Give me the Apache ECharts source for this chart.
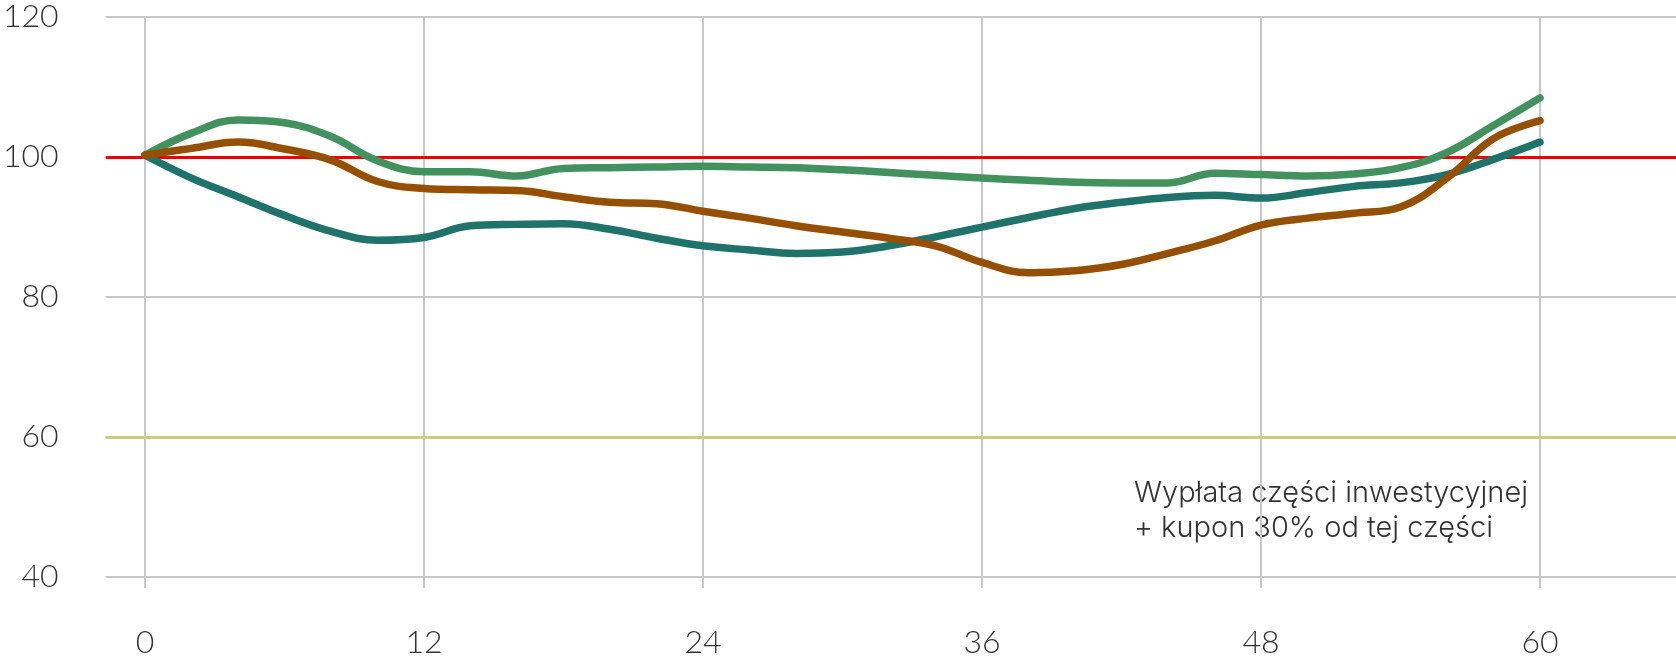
<!DOCTYPE html>
<html>
<head>
<meta charset="utf-8">
<script src="https://cdn.jsdelivr.net/npm/echarts@6/dist/echarts.min.js"></script>
<style>
html,body{margin:0;padding:0;background:#fff;}
#chart{width:1676px;height:659px;}
</style>
</head>
<body>
<div id="chart"></div>
<script>
const months = [0,2,4,6,8,10,12,14,16,18,20,22,24,26,28,30,32,34,36,38,40,42,44,46,48,50,52,54,56,58,60];
const xTicks = [0,12,24,36,48,60];
const yTicks = [40,60,80,100,120];
const greenValues = [100,103.2,105.1,104.7,102.7,99.2,97.6,97.6,97.0,98.1,98.2,98.3,98.4,98.3,98.2,97.9,97.5,97.1,96.7,96.4,96.1,96.0,96.0,97.4,97.2,97.0,97.3,98.2,100.4,104.3,108.3];
const tealValues = [100,96.7,94.0,91.3,89.0,87.7,88.1,89.8,90.0,90.1,89.3,88.0,86.9,86.3,85.8,86.0,86.9,88.2,89.6,91.0,92.3,93.2,93.9,94.2,93.8,94.6,95.5,96.0,97.2,99.4,101.9];
const brownValues = [100,101.0,101.9,100.9,99.3,96.2,95.2,95.0,94.9,94.0,93.2,93.0,91.9,90.9,89.8,88.9,88.0,86.9,84.5,83.0,83.3,84.2,85.8,87.6,89.9,90.9,91.6,92.5,96.7,102.4,105.0];
const referenceLevels = [100, 60];
const annotation = ['Wypłata części inwestycyjnej', '+ kupon 30% od tej części'];

const pairs = vals => months.map((m, i) => [m, vals[i]]);
const font = 'Lato, "Noto Sans", sans-serif';
const noteFont = 'Inter, "Noto Sans", sans-serif';
const gridColor = '#c8c8c8';

function dataSeries(name, vals, color) {
  return {
    name, type: 'line', xAxisIndex: 0, yAxisIndex: 0,
    data: pairs(vals), smooth: 0.4, showSymbol: false, z: 5,
    lineStyle: { color, width: 7.5, cap: 'round', join: 'round' },
    silent: true
  };
}

const chart = echarts.init(document.getElementById('chart'), null, { renderer: 'canvas' });
chart.setOption({
  animation: false,
  backgroundColor: '#ffffff',
  grid: [
    { left: 145, right: 136, top: 17, bottom: 82 },
    { left: 100, right: 0, top: 17, bottom: 82 }
  ],
  xAxis: [
    {
      type: 'value', gridIndex: 0, min: xTicks[0], max: xTicks[xTicks.length - 1], interval: 12,
      axisLine: { show: false },
      axisTick: { show: true, length: 18, lineStyle: { color: gridColor, width: 2 } },
      splitLine: { show: true, lineStyle: { color: gridColor, width: 2 } },
      axisLabel: { fontFamily: font, fontWeight: 300, fontSize: 32, color: '#333', margin: 57 }
    },
    {
      type: 'value', gridIndex: 1, min: 0, max: 1, show: false
    }
  ],
  yAxis: [
    { type: 'value', gridIndex: 0, min: 40, max: 120, interval: 20, show: false },
    {
      type: 'value', gridIndex: 1, min: yTicks[0], max: yTicks[yTicks.length - 1], interval: 20,
      axisLine: { show: false }, axisTick: { show: false },
      splitLine: { show: true, lineStyle: { color: gridColor, width: 2 } },
      axisLabel: { fontFamily: font, fontWeight: 300, fontSize: 32, color: '#333', margin: 47 }
    }
  ],
  series: [
    {
      name: 'ref', type: 'line', xAxisIndex: 1, yAxisIndex: 1, data: [], z: 2, silent: true,
      markLine: {
        symbol: 'none', silent: true, animation: false,
        label: { show: false },
        data: [
          { yAxis: referenceLevels[0], lineStyle: { color: '#ee0000', width: 3, type: 'solid' } },
          { yAxis: referenceLevels[1], lineStyle: { color: '#cccc7a', width: 3, type: 'solid' } }
        ]
      }
    },
    dataSeries('A', greenValues, '#43915f'),
    dataSeries('B', tealValues, '#20736a'),
    dataSeries('C', brownValues, '#954f00')
  ],
  graphic: [
    {
      type: 'text', left: 1134, top: 476, silent: true,
      style: {
        text: annotation.join('\n'), fontFamily: noteFont, fontWeight: 300, fontSize: 29,
        lineHeight: 35, fill: '#333'
      }
    }
  ]
});
</script>
</body>
</html>
